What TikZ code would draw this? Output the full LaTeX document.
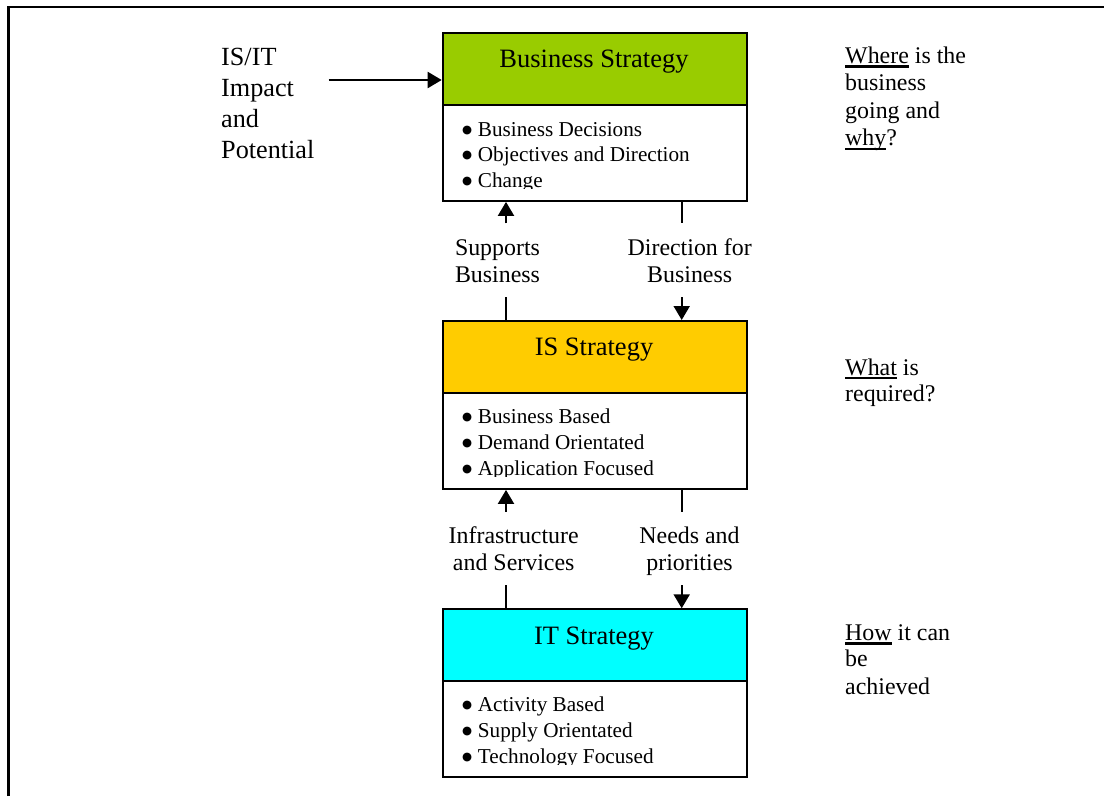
\documentclass[tikz,border=0pt]{standalone}
\usepackage{fontspec}
\setmainfont{Liberation Serif}
\newfontfamily\dejavu{DejaVu Sans}
\usetikzlibrary{arrows.meta}
\definecolor{bsgreen}{HTML}{99CC00}
\definecolor{isgold}{HTML}{FFCC00}
\definecolor{itcyan}{HTML}{00FFFF}
\newcommand\myul[1]{\setbox0\hbox{#1}\rlap{\rule[-4.2pt]{\wd0}{2.5pt}}\box0\relax}
\newcommand\bdot{\makebox[16.7pt][l]{\hspace{1pt}\raisebox{3pt}{\dejavu\fontsize{11.5}{12}\selectfont ●}}}
\begin{document}
\begin{tikzpicture}[x=1pt,y=-1pt,
  hdr/.style={draw, line width=1.9pt, minimum width=304pt, minimum height=72pt, inner sep=0pt, anchor=north west},
  bodybox/.style={draw, line width=1.9pt, fill=white, minimum width=304pt, minimum height=96pt, inner sep=0pt, anchor=north west},
  title/.style={font=\fontsize{26.5}{30}\selectfont, inner sep=0pt, anchor=base},
  bul/.style={font=\fontsize{21.2}{26}\selectfont, inner sep=0pt, anchor=base west},
  lbl/.style={font=\fontsize{23.9}{27}\selectfont, inner sep=0pt, anchor=base},
  side/.style={font=\fontsize{23.9}{27}\selectfont, inner sep=0pt, anchor=base west},
  lside/.style={font=\fontsize{26.2}{31}\selectfont, inner sep=0pt, anchor=base west},
  arr/.style={line width=2pt, -{Triangle[length=14pt,width=16pt]}},
  plainline/.style={line width=2pt}]
\useasboundingbox (0,0) rectangle (1104,796);
\fill[white] (0,0) rectangle (1104,796);
\draw[line width=2.2pt] (8.5,796) -- (8.5,7) -- (1104,7);

% ---------- Business Strategy ----------
\node[hdr, fill=bsgreen] (bsh) at (441.7,32.3) {};
\node[bodybox] (bsb) at (441.7,104) {};
\node[title] (bst) at (594,67.7) {Business Strategy};
\begin{scope}
\clip (441.7,104) rectangle (746,188.3);
\node[bul] (bs1) at (461,136) {\bdot Business Decisions};
\node[bul] (bs2) at (461,161.8) {\bdot Objectives and Direction};
\node[bul] (bs3) at (461,187.6) {\bdot Change};
\end{scope}

% ---------- IS Strategy ----------
\node[hdr, fill=isgold] (ish) at (441.7,320) {};
\node[bodybox] (isb) at (441.7,392) {};
\node[title] (ist) at (594,355.5) {IS Strategy};
\begin{scope}
\clip (441.7,392) rectangle (746,476.7);
\node[bul] (is1) at (461,423.5) {\bdot Business Based};
\node[bul] (is2) at (461,449.3) {\bdot Demand Orientated};
\node[bul] (is3) at (461,475.1) {\bdot Application Focused};
\end{scope}

% ---------- IT Strategy ----------
\node[hdr, fill=itcyan] (ith) at (441.7,608.3) {};
\node[bodybox] (itb) at (441.7,680.3) {};
\node[title] (itt) at (594,644.3) {IT Strategy};
\begin{scope}
\clip (441.7,680.3) rectangle (746,764.5);
\node[bul] (it1) at (461,711.8) {\bdot Activity Based};
\node[bul] (it2) at (461,737.6) {\bdot Supply Orientated};
\node[bul] (it3) at (461,763.4) {\bdot Technology Focused};
\end{scope}

% ---------- connectors between Business and IS ----------
\coordinate (c1a) at (506,223.3);
\coordinate (c1b) at (681.7,223.3);
\coordinate (c1c) at (506,297.3);
\coordinate (c1d) at (681.7,297.3);
\draw[arr] (c1a) -- (c1a |- bsb.south);
\draw[plainline] (c1b |- bsb.south) -- (c1b);
\draw[plainline] (c1c) -- (c1c |- ish.north);
\draw[arr] (c1d) -- (c1d |- ish.north);
\node[lbl] (sup1) at (497.5,255.7) {Supports};
\node[lbl] (sup2) at (497.5,282.3) {Business};
\node[lbl] (dir1) at (689.7,255.7) {Direction for};
\node[lbl] (dir2) at (689.7,282.3) {Business};

% ---------- connectors between IS and IT ----------
\coordinate (c2a) at (506,511.7);
\coordinate (c2b) at (681.7,511.7);
\coordinate (c2c) at (506,585);
\coordinate (c2d) at (681.7,585);
\draw[arr] (c2a) -- (c2a |- isb.south);
\draw[plainline] (c2b |- isb.south) -- (c2b);
\draw[plainline] (c2c) -- (c2c |- ith.north);
\draw[arr] (c2d) -- (c2d |- ith.north);
\node[lbl] (inf1) at (513.7,543.3) {Infrastructure};
\node[lbl] (inf2) at (513.7,570) {and Services};
\node[lbl] (nee1) at (689.5,543.3) {Needs and};
\node[lbl] (nee2) at (689.5,570) {priorities};

% ---------- IS/IT impact ----------
\coordinate (la) at (328.7,80);
\draw[arr] (la) -- (la -| bsh.west);
\node[lside] (imp1) at (221,65.5) {IS/IT};
\node[lside] (imp2) at (221,96.5) {Impact};
\node[lside] (imp3) at (221,127.5) {and};
\node[lside] (imp4) at (221,158.5) {Potential};

% ---------- side questions ----------
\node[side] (q1) at (845,63.3) {\myul{Where} is the};
\node[side] (q2) at (845,90.8) {business};
\node[side] (q3) at (845,118.3) {going and};
\node[side] (q4) at (845,145.8) {\myul{why}?};
\node[side] (q5) at (845,375) {\myul{What} is};
\node[side] (q6) at (845,401.7) {required?};
\node[side] (q7) at (845,640.7) {\myul{How} it can};
\node[side] (q8) at (845,666.5) {be};
\node[side] (q9) at (845,694) {achieved};
\end{tikzpicture}
\end{document}
